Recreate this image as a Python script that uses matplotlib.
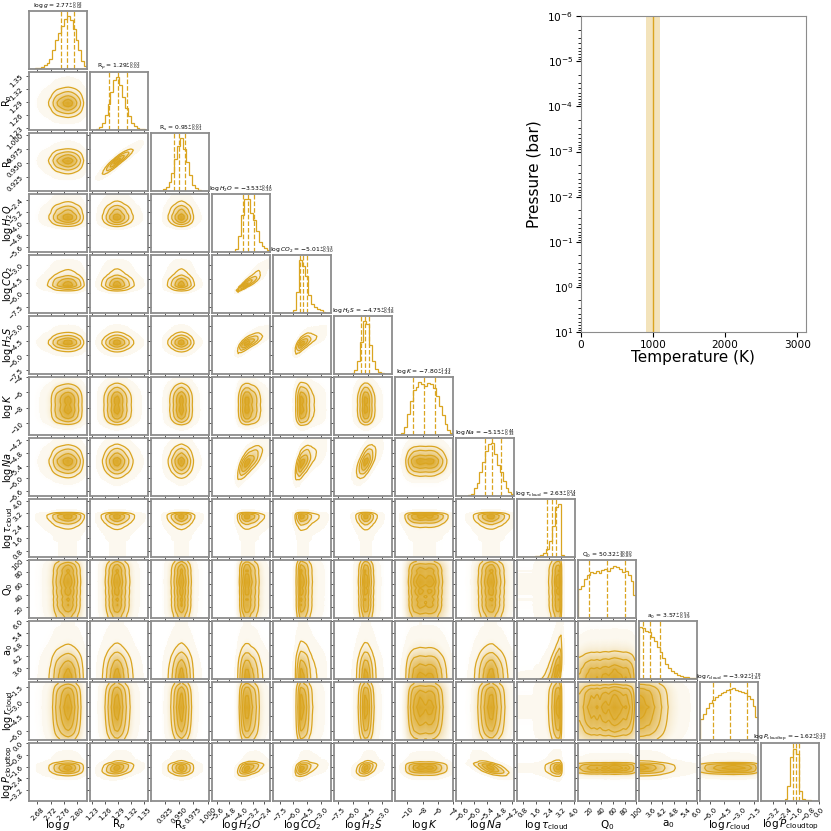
import numpy as np
import matplotlib.pyplot as plt
from matplotlib.colors import LinearSegmentedColormap

color = "#DAA520"

labels = [r"$\log g$", r"R$_p$", r"R$_s$", r"$\log H_2O$", r"$\log CO_2$",
          r"$\log H_2S$", r"$\log K$", r"$\log Na$", r"$\log \tau_{\rm cloud}$",
          r"Q$_0$", r"a$_0$", r"$\log r_{\rm cloud}$", r"$\log P_{\rm cloudtop}$"]

medians = [2.77, 1.29, 0.95, -3.53, -5.01, -4.75, -7.80, -5.15, 2.63, 50.32, 3.57, -3.92, -1.62]
err_hi = [0.02, 0.02, 0.01, 0.44, 0.53, 0.42, 1.43, 0.44, 0.24, 30.80, 0.52, 1.78, 0.19]
err_lo = [0.02, 0.02, 0.01, 0.30, 0.30, 0.38, 1.44, 0.33, 0.34, 30.89, 0.39, 1.81, 0.22]

ranges = [(2.655, 2.83), (1.225, 1.36), (0.90, 1.003), (-5.95, -2.0), (-8.2, -1.9),
          (-7.9, -2.0), (-11.6, -4.0), (-6.85, -4.1), (0.4, 4.1), (1.0, 100.0),
          (3.0, 6.0), (-7.0, -1.0), (-4.0, 0.0)]

ticks = [[2.68, 2.72, 2.76, 2.80], [1.23, 1.26, 1.29, 1.32, 1.35],
         [0.925, 0.950, 0.975, 1.000], [-5.6, -4.8, -4.0, -3.2, -2.4],
         [-7.5, -6.0, -4.5, -3.0], [-7.5, -6.0, -4.5, -3.0], [-10, -8, -6, -4],
         [-6.6, -6.0, -5.4, -4.8, -4.2], [0.8, 1.6, 2.4, 3.2, 4.0],
         [20, 40, 60, 80, 100], [3.6, 4.2, 4.8, 5.4, 6.0],
         [-6.0, -4.5, -3.0, -1.5], [-3.2, -2.4, -1.6, -0.8, 0.0]]

# 20-bin marginal histograms (relative counts)
hists = [
    [0, 0, 1, 2, 4, 7, 11, 18, 35, 55, 68, 82, 95, 100, 92, 75, 55, 35, 15, 5],
    [0, 0, 2, 6, 14, 28, 50, 72, 95, 100, 85, 62, 42, 26, 14, 7, 4, 2, 1, 0],
    [0, 0, 0, 0, 3, 8, 18, 35, 60, 85, 100, 80, 55, 30, 12, 5, 2, 1, 0, 0],
    [0, 0, 0, 0, 0, 0, 0, 0, 5, 30, 70, 100, 100, 74, 60, 40, 20, 12, 7, 4],
    [0, 0, 0, 0, 0, 0, 0, 5, 40, 100, 90, 70, 35, 18, 12, 8, 5, 3, 1, 0],
    [0, 0, 0, 0, 0, 0, 2, 8, 25, 60, 100, 95, 55, 25, 10, 4, 2, 0, 0, 0],
    [0, 1, 4, 15, 40, 65, 85, 92, 100, 97, 93, 98, 97, 90, 75, 55, 38, 22, 10, 4],
    [0, 0, 0, 1, 2, 5, 15, 25, 45, 65, 85, 98, 100, 80, 60, 45, 28, 15, 8, 4],
    [1, 1, 1, 1, 1, 1, 2, 2, 4, 8, 15, 30, 60, 95, 100, 5, 0, 0, 0, 0],
    [55, 62, 75, 82, 88, 86, 90, 85, 92, 94, 90, 96, 100, 97, 93, 88, 90, 82, 70, 45],
    [100, 98, 92, 90, 80, 72, 62, 52, 40, 30, 22, 16, 12, 9, 7, 5, 4, 3, 2, 2],
    [40, 50, 62, 70, 76, 82, 86, 90, 92, 95, 97, 100, 96, 94, 92, 90, 85, 78, 65, 45],
    [0, 0, 0, 0, 0, 0, 0, 1, 5, 30, 85, 100, 90, 20, 5, 3, 2, 1, 0, 0],
]

# correlations seen in the 2D panels: (row parameter, column parameter, rho)
correlations = [(2, 1, 0.92), (4, 3, 0.90), (5, 3, 0.75), (5, 4, 0.70),
                (7, 3, 0.70), (7, 4, 0.60), (7, 5, 0.60), (10, 8, 0.45),
                (12, 7, -0.60), (12, 3, 0.35), (12, 4, 0.30), (12, 5, 0.30),
                (12, 1, 0.20)]

# temperature-pressure profile
pressure = [1e-6, 1e1]
temperature = [1000, 1000]
temp_lo = [900, 900]
temp_hi = [1100, 1100]

n = len(labels)
rho = np.zeros((n, n))
for a, b, r in correlations:
    rho[a, b] = rho[b, a] = r

sigmas = np.array([0.5, 1.0, 1.5, 2.0])
masses = 1 - np.exp(-0.5 * sigmas ** 2)
density_cmap = LinearSegmentedColormap.from_list("dens", [(1, 1, 1, 0), color])

# standard normal cdf table, used to turn each marginal into normal scores
t_tab = np.linspace(-4, 4, 2001)
cdf_tab = np.cumsum(np.exp(-0.5 * t_tab ** 2))
cdf_tab /= cdf_tab[-1]


def marginal(k, v):
    lo, hi = ranges[k]
    edges = np.linspace(lo, hi, len(hists[k]) + 1)
    centers = 0.5 * (edges[1:] + edges[:-1])
    return np.interp(v, centers, hists[k])


def score(k, v):
    lo, hi = ranges[k]
    edges = np.linspace(lo, hi, len(hists[k]) + 1)
    cum = np.concatenate([[0], np.cumsum(hists[k])]) / np.sum(hists[k])
    u = np.clip(np.interp(v, edges, cum), 0.002, 0.998)
    return np.interp(u, cdf_tab, t_tab)


def level_values(D, ms):
    flat = np.sort(D.ravel())[::-1]
    cum = np.cumsum(flat)
    cum /= cum[-1]
    return [flat[min(np.searchsorted(cum, m), flat.size - 1)] for m in ms]


fig, axes = plt.subplots(n, n, figsize=(8.31, 8.31), dpi=100)
fig.subplots_adjust(left=0.035, right=0.986, bottom=0.0355, top=0.987,
                    wspace=0.05, hspace=0.05)

for i in range(n):
    for j in range(n):
        ax = axes[i, j]
        if j > i:
            ax.set_frame_on(False)
            ax.set_xticks([])
            ax.set_yticks([])
            continue
        for s in ax.spines.values():
            s.set_color("#8c8c8c")
            s.set_linewidth(1.3)
        ax.tick_params(labelsize=5, length=2.5, width=0.7, color="#555555", pad=1)

        if i == j:
            lo, hi = ranges[i]
            edges = np.linspace(lo, hi, len(hists[i]) + 1)
            ax.stairs(hists[i], edges, color=color, lw=0.9)
            ax.set_ylim(0, 1.1 * max(hists[i]))
            for q in (medians[i] - err_lo[i], medians[i], medians[i] + err_hi[i]):
                ax.axvline(q, ls="--", color=color, lw=0.9)
            ax.set_yticks([])
            ax.set_title(r"%s = $%.2f_{-%.2f}^{+%.2f}$"
                         % (labels[i], medians[i], err_lo[i], err_hi[i]),
                         fontsize=4.3, pad=1.5)
        else:
            xs = np.linspace(*ranges[j], 90)
            ys = np.linspace(*ranges[i], 90)
            X, Y = np.meshgrid(xs, ys)
            hx = marginal(j, xs)[None, :]
            hy = marginal(i, ys)[:, None]
            zx = score(j, X)
            zy = score(i, Y)
            r = rho[i, j]
            cop = np.exp(-(r ** 2 * (zx ** 2 + zy ** 2) - 2 * r * zx * zy)
                         / (2 * (1 - r ** 2))) / np.sqrt(1 - r ** 2)
            D = hx * hy * cop
            V = sorted(level_values(D, masses))
            haze = level_values(D, [0.99])[0]
            if haze < V[0]:
                ax.contourf(X, Y, D, [haze, V[0]],
                            colors=[(0.855, 0.647, 0.125, 0.07)])
            ax.pcolormesh(X, Y, D / D.max(), cmap=density_cmap, vmin=0, vmax=1.05,
                          shading="gouraud")
            ax.contour(X, Y, D, V, colors=color, linewidths=0.9)
            ax.set_ylim(*ranges[i])
            ax.set_yticks(ticks[i])
            if j == 0:
                ax.set_ylabel(labels[i], fontsize=7)
                ax.yaxis.set_label_coords(-0.25, 0.5)
                for t in ax.get_yticklabels():
                    t.set_rotation(45)
            else:
                ax.set_yticklabels([])

        ax.set_xlim(*ranges[j])
        ax.set_xticks(ticks[j])
        if i == n - 1:
            ax.set_xlabel(labels[j], fontsize=7.5)
            ax.xaxis.set_label_coords(0.5, -0.28)
            for t in ax.get_xticklabels():
                t.set_rotation(45)
        else:
            ax.set_xticklabels([])

# temperature-pressure inset
ax_pt = fig.add_axes([0.699, 0.6005, 0.2708, 0.380])
ax_pt.fill_betweenx(pressure, temp_lo, temp_hi, color=color, alpha=0.3, lw=0)
ax_pt.plot(temperature, pressure, color=color, lw=1)
ax_pt.set_yscale("log")
ax_pt.set_ylim(1e1, 1e-6)
ax_pt.set_xlim(0, 3120)
ax_pt.set_xticks([0, 1000, 2000, 3000])
ax_pt.set_xlabel("Temperature (K)", fontsize=11, labelpad=0)
ax_pt.set_ylabel("Pressure (bar)", fontsize=11)
ax_pt.tick_params(labelsize=7.6, pad=2)
for s in ax_pt.spines.values():
    s.set_color("#8c8c8c")

fig.savefig("out.png", dpi=100)
